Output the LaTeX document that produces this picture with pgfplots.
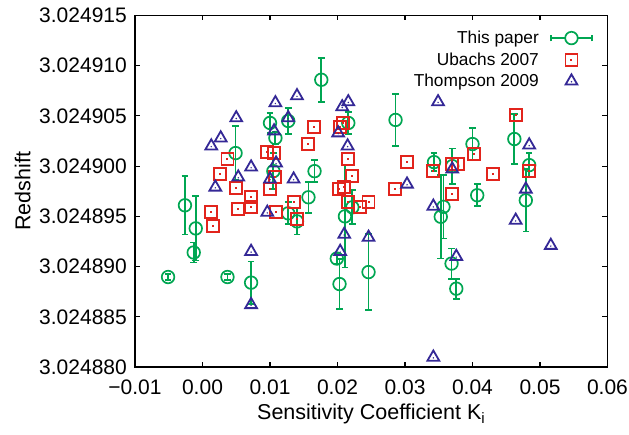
\documentclass[border=0pt]{standalone}
\usepackage{pgfplots}
\pgfplotsset{compat=1.18}
\usepackage{pgfplotstable}
\usepackage{fontspec}
\setmainfont{Liberation Sans}
\definecolor{pgreen}{RGB}{0,166,82}
\definecolor{ured}{RGB}{226,36,28}
\definecolor{tblue}{RGB}{52,40,150}

\pgfdeclareplotmark{sqdot}{%
  \pgfpathrectangle{\pgfpoint{-\pgfplotmarksize}{-\pgfplotmarksize}}{\pgfpoint{2\pgfplotmarksize}{2\pgfplotmarksize}}%
  \pgfusepathqstroke
  \pgfpathrectangle{\pgfpoint{-1pt}{-1pt}}{\pgfpoint{2pt}{2pt}}%
  \pgfusepathqfill}
\pgfdeclareplotmark{tridot}{%
  \pgfpathmoveto{\pgfqpointpolar{90}{\pgfplotmarksize}}%
  \pgfpathlineto{\pgfqpointpolar{210}{\pgfplotmarksize}}%
  \pgfpathlineto{\pgfqpointpolar{330}{\pgfplotmarksize}}%
  \pgfpathclose
  \pgfusepathqstroke
  \pgfpathcircle{\pgfpoint{0pt}{-0.6pt}}{0.8pt}%
  \pgfusepathqfill}

\pgfplotsset{
  markleg/.style={legend image code/.code={%
    \draw[mark repeat=2,mark phase=2,##1] plot coordinates {(0pt,0pt)(20.8pt,0pt)(41.6pt,0pt)};}},
  errleg/.style={legend image code/.code={%
    \draw[pgreen, line width=1.7pt] (0pt,0pt) -- (14.5pt,0pt) (27.1pt,0pt) -- (41.6pt,0pt);
    \draw[pgreen, line width=1.7pt] (0pt,-3.3pt) -- (0pt,3.3pt) (41.6pt,-3.3pt) -- (41.6pt,3.3pt);
    \draw[pgreen, line width=1.7pt] (20.8pt,0pt) circle (6.3pt);}},
}

% offsets in units of 1e-6 above z = 3.024880
\pgfplotstableread{
x y e
-0.0051 8.96 0.3
-0.0026 16.1 2.9
-0.0013 11.4 1.0
-0.0010 13.8 3.2
0.0037 8.96 0.3
0.0049 21.3 2.7
0.0072 8.4 2.1
0.0100 24.3 1.0
0.0105 19.5 1.8
0.0108 22.8 0.6
0.0127 24.5 1.3
0.0127 15.3 1.1
0.0140 14.5 1.3
0.0157 16.9 1.55
0.0166 19.5 1.1
0.0176 28.6 2.2
0.0199 10.8 0.5
0.0203 8.26 2.5
0.0211 15.0 5.1
0.0216 24.3 1.1
0.0222 15.9 1.7
0.0246 9.45 3.8
0.0286 24.6 2.6
0.0343 20.4 0.9
0.0353 14.96 4.15
0.0357 15.95 3.15
0.0369 10.3 1.5
0.0370 20.0 1.75
0.0376 7.8 1.0
0.0400 22.2 1.6
0.0407 17.1 1.1
0.0462 22.7 2.5
0.0479 16.6 3.1
0.0484 20.1 1.2
}\thispaper

\pgfplotstableread{
x y
0.0012 15.4
0.0015 14.0
0.0026 19.2
0.0037 20.7
0.0050 17.8
0.0053 15.7
0.0072 16.9
0.0072 15.9
0.0096 21.4
0.0100 17.7
0.0106 21.3
0.0108 18.9
0.0109 15.4
0.0135 16.4
0.0140 14.7
0.0156 22.2
0.0165 23.9
0.0202 17.7
0.0204 23.9
0.0208 24.3
0.0210 17.9
0.0215 20.7
0.0215 16.4
0.0222 19.0
0.0233 15.9
0.0246 16.4
0.0285 17.7
0.0303 20.4
0.0342 19.5
0.0369 20.2
0.0370 17.2
0.0378 20.2
0.0402 21.2
0.0431 19.2
0.0464 25.1
0.0484 19.5
}\ubachs

\pgfplotstableread{
x y
0.0013 22.0
0.0019 17.9
0.0027 22.8
0.0050 24.8
0.0053 18.9
0.0072 19.9
0.0072 11.5
0.0072 6.2
0.0096 15.4
0.0100 18.7
0.0106 23.5
0.0108 26.3
0.0109 20.3
0.0127 24.8
0.0135 18.7
0.0140 27.0
0.0201 23.3
0.0204 11.5
0.0207 25.9
0.0210 13.2
0.0215 22.0
0.0216 26.4
0.0246 12.9
0.0303 18.2
0.0342 16.0
0.0342 0.97
0.0349 26.4
0.0370 19.7
0.0376 11.0
0.0464 14.6
0.0479 17.7
0.0484 22.1
0.0516 12.1
}\thompson

\begin{document}
\begin{tikzpicture}
\begin{axis}[name=ax,
  scale only axis, width=472.5pt, height=351.5pt,
  xmin=-0.01, xmax=0.06, ymin=0, ymax=35,
  scaled x ticks=false, scaled y ticks=false,
  xtick={-0.01,0,0.01,0.02,0.03,0.04,0.05,0.06},
  xticklabels={−0.01,0.00,0.01,0.02,0.03,0.04,0.05,0.06},
  ytick={0,5,10,15,20,25,30,35},
  yticklabels={3.024880,3.024885,3.024890,3.024895,3.024900,3.024905,3.024910,3.024915},
  tick align=inside, major tick length=5pt,
  tick style={line width=1.1pt, black},
  axis line style={line width=1.3pt},
  minor tick num=0,
  tick label style={font=\fontsize{21}{24}\selectfont},
  xticklabel style={inner sep=0pt, yshift=-12.5pt},
  yticklabel style={inner sep=0pt, xshift=-8pt},
  label style={font=\fontsize{21.5}{25}\selectfont},
  xlabel={Sensitivity Coefficient K\textsubscript{i}},
  xlabel style={yshift=-6pt},
  ylabel={Redshift},
  ylabel shift=5pt,
  legend style={at={(0.97,0.962)}, anchor=north east, draw=none, fill=none,
    font=\fontsize{17.3}{20}\selectfont, row sep=3.5pt, column sep=9pt, inner sep=0pt},
  legend cell align=right, legend plot pos=right,
  clip=false,
]
\addplot[pgreen, only marks, mark=o, mark size=6.3pt, line width=1.7pt, errleg,
  every error bar/.append style={line width=1.8pt, pgreen},
  error bars/.cd, y dir=both, y explicit,
  error bar style={line width=1.8pt, pgreen},
  error mark=-,
  error mark options={rotate=90, line width=1.8pt, mark size=3.3pt, pgreen}]
  table[x=x, y=y, y error=e]{\thispaper};
\addlegendentry{This paper}
\addplot[ured, only marks, mark=sqdot, mark size=6pt, line width=1.9pt, markleg]
  table[x=x, y=y]{\ubachs};
\addlegendentry{Ubachs 2007}
\addplot[tblue, only marks, mark=tridot, mark size=6.8pt, line width=1.8pt, markleg]
  table[x=x, y=y]{\thompson};
\addlegendentry{Thompson 2009}
\end{axis}
\pgfresetboundingbox
\path[use as bounding box] ([shift={(-135pt,-68pt)}]ax.south west) rectangle ++(629pt,435pt);
\end{tikzpicture}
\end{document}
